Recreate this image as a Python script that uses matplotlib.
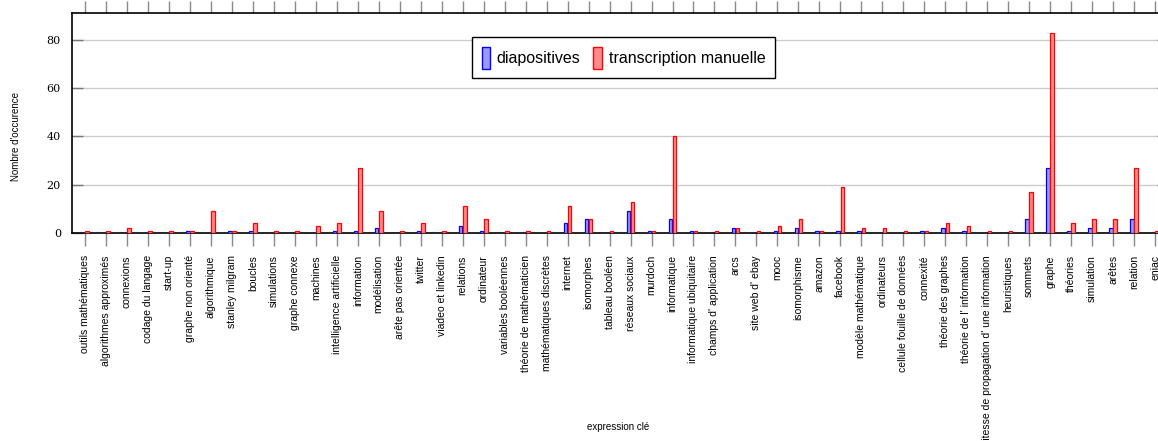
import numpy as np
import matplotlib
matplotlib.use("Agg")
import matplotlib.pyplot as plt
from matplotlib.patches import Patch

categories = [
    "outils mathématiques", "algorithmes approximés", "connexions", "codage du langage",
    "start-up", "graphe non orienté", "algorithmique", "stanley milgram", "boucles",
    "simulations", "graphe connexe", "machines", "intelligence artificielle", "information",
    "modélisation", "arête pas orientée", "twitter", "viadeo et linkedin", "relations",
    "ordinateur", "variables booléennes", "théorie de mathématicien", "mathématiques discrètes",
    "internet", "isomorphes", "tableau booléen", "réseaux sociaux", "murdoch", "informatique",
    "informatique ubiquitaire", "champs d' application", "arcs", "site web d' ebay", "mooc",
    "isomorphisme", "amazon", "facebook", "modèle mathématique", "ordinateurs",
    "cellule fouille de données", "connexité", "théorie des graphes", "théorie de l' information",
    "vitesse de propagation d' une information", "heuristiques", "sommets", "graphe", "théories",
    "simulation", "arêtes", "relation", "eniac",
]

diapositives = [0, 0, 0, 0, 0, 1, 0, 1, 1, 0, 0, 0, 1, 1, 2, 0, 1, 0, 3, 1,
                0, 0, 0, 4, 6, 0, 9, 1, 6, 1, 0, 2, 0, 1, 2, 1, 1, 1, 0, 0,
                1, 2, 1, 0, 0, 6, 27, 1, 2, 2, 6, 0]
transcription = [1, 1, 2, 1, 1, 1, 9, 1, 4, 1, 1, 3, 4, 27, 9, 1, 4, 1, 11, 6,
                 1, 1, 1, 11, 6, 1, 13, 1, 40, 1, 1, 2, 1, 3, 6, 1, 19, 2, 2, 1,
                 1, 4, 3, 1, 1, 17, 83, 4, 6, 6, 27, 1]

x = np.arange(len(categories))
w = 0.17

fig = plt.figure(figsize=(11.58, 4.41), dpi=100)
ax = fig.add_axes([0.0622, 0.4717, 0.9465, 0.4989])

ax.bar(x - 0.1, diapositives, width=w, facecolor=(0.6, 0.6, 1.0), edgecolor="blue",
       linewidth=0.9, zorder=3)
ax.bar(x + 0.1, transcription, width=w, facecolor=(1.0, 0.55, 0.55), edgecolor="red",
       linewidth=0.9, zorder=3)

ax.set_xlim(-0.62, len(categories) - 1 + 0.62)
ax.set_ylim(0, 91.2)

ax.set_xticks(x)
ax.set_xticklabels(categories, rotation=90, fontsize=7.5, family="Liberation Sans",
                   va="top", ha="center")
ax.tick_params(axis="x", which="both", direction="out", length=9, width=1,
               color="#888888", top=True, pad=7)
ax.set_yticks([0, 20, 40, 60, 80])
ax.set_yticklabels(["0", "20", "40", "60", "80"], fontsize=8, family="DejaVu Serif")
ax.tick_params(axis="y", direction="in", length=8, width=1, color="#777777",
               right=True, pad=8)

ax.grid(axis="y", color="#cccccc", linewidth=1, zorder=0)
ax.set_axisbelow(True)
for s in ["left", "top", "bottom"]:
    ax.spines[s].set_linewidth(1.2)
ax.spines["right"].set_visible(False)

ax.set_ylabel("Nombre d'occurence", fontsize=7, family="Liberation Sans")
ax.yaxis.set_label_coords(-0.047, 0.44)
fig.text(0.534, 0.02, "expression clé", fontsize=7, family="Liberation Sans",
         ha="center", va="bottom")

handles = [Patch(facecolor=(0.6, 0.6, 1.0), edgecolor="blue"),
           Patch(facecolor=(1.0, 0.55, 0.55), edgecolor="red")]
leg = ax.legend(handles, ["diapositives", "transcription manuelle"], ncol=2,
                loc="upper left", bbox_to_anchor=(0.365, 0.891), borderaxespad=0,
                fancybox=False, edgecolor="black", framealpha=1,
                prop={"family": "Liberation Sans", "size": 11.5},
                handlelength=0.55, handleheight=1.75, handletextpad=0.4,
                columnspacing=0.8, borderpad=0.6)
leg.get_frame().set_linewidth(1)

fig.savefig("out.png", dpi=100)
